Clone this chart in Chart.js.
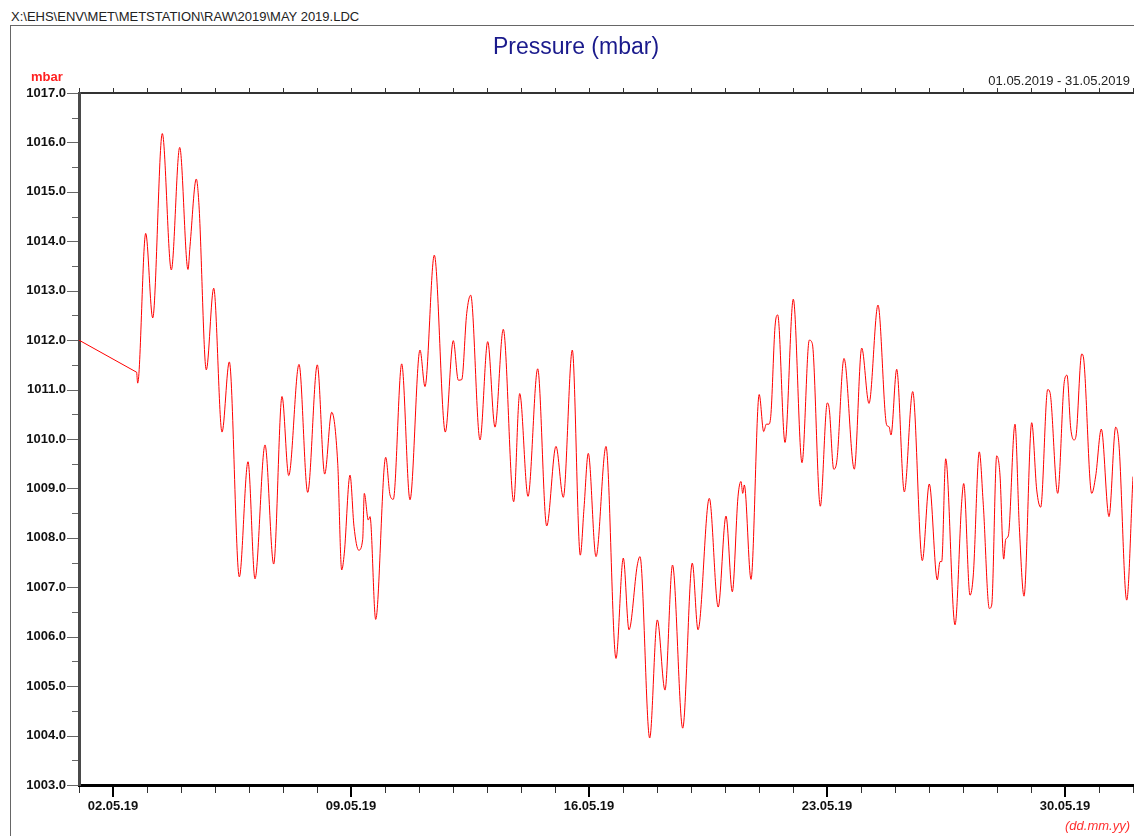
<!DOCTYPE html>
<html>
<head>
<meta charset="utf-8">
<script src="https://cdn.jsdelivr.net/npm/chart.js@4"></script>
<style>
html,body{margin:0;padding:0;background:#fff;}
#wrap{position:relative;width:1134px;height:836px;overflow:hidden;font-family:"Liberation Sans",Arial,sans-serif;}
#frame{position:absolute;left:10px;top:25px;width:1200px;height:900px;border-left:1px solid #666;border-top:1px solid #666;}
canvas{position:absolute;left:0;top:0;}
.t{position:absolute;line-height:1;white-space:nowrap;}
</style>
</head>
<body>
<div id="wrap">
  <div class="t" style="left:11px;top:10px;font-size:13px;color:#222;">X:\EHS\ENV\MET\METSTATION\RAW\2019\MAY 2019.LDC</div>
  <div id="frame"></div>
  <canvas id="c" width="1134" height="836"></canvas>
  <div class="t" style="left:576px;top:35px;font-size:23px;color:#1a1a8c;transform:translateX(-50%);">Pressure (mbar)</div>
  <div class="t" style="left:31px;top:70px;font-size:13px;font-weight:bold;color:#ff2020;">mbar</div>
  <div class="t" style="right:4px;top:74px;font-size:13px;color:#222;">01.05.2019 - 31.05.2019</div>
  <div class="t" style="right:4px;top:819px;font-size:13px;font-style:italic;color:#ff3030;">(dd.mm.yy)</div>
</div>
<script>
// ---- Data (days since 01.05.2019 00:00, pressure in mbar) ----
const days = [
  0.000, 1.697, 1.726, 1.962, 2.168, 2.450, 2.715, 2.962, 3.206, 3.265,
  3.450, 3.529, 3.744, 3.962, 4.206, 4.421, 4.715, 4.971, 5.176, 5.471,
  5.726, 5.971, 6.168, 6.471, 6.726, 7.009, 7.226, 7.432, 7.609, 7.726,
  7.803, 7.971, 8.088, 8.226, 8.344, 8.391, 8.509, 8.559, 8.726, 9.021,
  9.147, 9.244, 9.491, 9.735, 10.029, 10.176, 10.450, 10.774, 11.009, 11.156,
  11.256, 11.403, 11.521, 11.794, 12.021, 12.235, 12.479, 12.785, 12.962, 13.206,
  13.491, 13.756, 14.029, 14.244, 14.509, 14.744, 14.853, 14.979, 15.206, 15.500,
  15.794, 16.009, 16.176, 16.421, 16.500, 16.785, 17.009, 17.235, 17.456, 17.756,
  18.038, 18.206, 18.538, 18.800, 19.029, 19.215, 19.382, 19.471, 19.521, 19.568,
  19.765, 20.006, 20.138, 20.215, 20.294, 20.353, 20.471, 20.550, 20.765, 21.009,
  21.265, 21.479, 21.568, 21.803, 22.009, 22.068, 22.197, 22.294, 22.500, 22.803,
  23.021, 23.235, 23.500, 23.756, 23.824, 23.882, 24.050, 24.274, 24.521, 24.803,
  25.009, 25.244, 25.324, 25.374, 25.491, 25.765, 25.962, 26.021, 26.206, 26.303,
  26.479, 26.597, 26.774, 26.844, 26.991, 27.088, 27.197, 27.256, 27.332, 27.529,
  27.656, 27.794, 28.021, 28.168, 28.285, 28.491, 28.559, 28.785, 28.979, 29.059,
  29.168, 29.265, 29.324, 29.491, 29.538, 29.785, 29.903, 30.068, 30.294, 30.491,
  30.588, 30.815, 31.000
];
const pressure = [
  1012.00, 1011.35, 1011.13, 1014.16, 1012.45, 1016.18, 1013.42, 1015.90, 1013.43, 1013.90,
  1015.26, 1014.73, 1011.40, 1013.05, 1010.14, 1011.56, 1007.21, 1009.54, 1007.17, 1009.88,
  1007.47, 1010.86, 1009.26, 1011.51, 1008.92, 1011.50, 1009.29, 1010.54, 1009.51, 1007.35,
  1007.69, 1009.27, 1008.23, 1007.75, 1007.97, 1008.90, 1008.36, 1008.43, 1006.35, 1009.63,
  1008.87, 1008.78, 1011.52, 1008.77, 1011.80, 1011.06, 1013.72, 1010.14, 1011.99, 1011.19,
  1011.20, 1012.54, 1012.91, 1009.98, 1011.97, 1010.24, 1012.22, 1008.73, 1010.92, 1008.84,
  1011.42, 1008.24, 1009.85, 1008.82, 1011.80, 1007.65, 1008.60, 1009.71, 1007.62, 1009.85,
  1005.56, 1007.59, 1006.14, 1007.45, 1007.62, 1003.95, 1006.34, 1004.92, 1007.45, 1004.15,
  1007.49, 1006.14, 1008.80, 1006.60, 1008.44, 1006.91, 1008.83, 1009.14, 1008.90, 1009.07,
  1007.16, 1010.90, 1010.15, 1010.30, 1010.30, 1010.52, 1012.27, 1012.51, 1009.93, 1012.83,
  1009.52, 1012.00, 1011.93, 1008.64, 1010.73, 1010.60, 1009.39, 1009.58, 1011.63, 1009.39,
  1011.84, 1010.72, 1012.71, 1010.28, 1010.25, 1010.08, 1011.41, 1008.93, 1010.96, 1007.54,
  1009.09, 1007.15, 1007.52, 1007.52, 1009.60, 1006.24, 1008.73, 1009.10, 1006.84, 1007.25,
  1009.74, 1008.67, 1006.57, 1006.64, 1009.66, 1009.27, 1007.57, 1007.97, 1008.04, 1010.30,
  1008.23, 1006.82, 1010.33, 1008.97, 1008.62, 1011.00, 1010.94, 1008.90, 1011.16, 1011.29,
  1010.22, 1009.98, 1010.06, 1011.72, 1011.67, 1008.90, 1009.25, 1010.20, 1008.43, 1010.24,
  1009.88, 1006.74, 1009.24
];
// gap in the record: first sample joined by a straight line to the next one
const gapEndIndex = 1;

// x tick labels (day offset -> label)
const tickDays = [1, 8, 15, 22, 29];
const tickLabels = ['02.05.19', '09.05.19', '16.05.19', '23.05.19', '30.05.19'];
const xMin = 0, xMax = 31;
const yMin = 1003, yMax = 1017;

const points = days.map((d, i) => ({x: d, y: pressure[i]}));
const gapPoints = points.slice(0, gapEndIndex + 1);
const mainPoints = points.slice(gapEndIndex);

const FONT = '"Liberation Sans", Arial, sans-serif';

const axisTicks = {
  id: 'axisTicks',
  afterDraw(chart) {
    const {ctx, chartArea: area} = chart;
    const x = chart.scales.x, y = chart.scales.y;
    ctx.save();
    x.ticks.forEach(t => {
      const major = tickDays.includes(t.value);
      const px = Math.round(x.getPixelForValue(t.value));
      ctx.strokeStyle = major ? '#000' : '#333';
      ctx.lineWidth = major ? 2 : 1;
      ctx.beginPath();
      const xx = major ? px : px + 0.5;
      ctx.moveTo(xx, area.bottom + 2);
      ctx.lineTo(xx, area.bottom + (major ? 12 : 8));
      ctx.stroke();
    });
    y.ticks.forEach(t => {
      const major = Math.abs(t.value - Math.round(t.value)) < 1e-6;
      const py = Math.round(y.getPixelForValue(t.value)) + 0.5;
      ctx.strokeStyle = '#666';
      ctx.lineWidth = 1;
      ctx.beginPath();
      ctx.moveTo(area.left - (major ? 12 : 7), py);
      ctx.lineTo(area.left - 1, py);
      ctx.stroke();
    });
    ctx.restore();
  }
};

new Chart(document.getElementById('c'), {
  type: 'line',
  data: {
    datasets: [
      {data: gapPoints, borderColor: '#ff0000', borderWidth: 1, pointRadius: 0, tension: 0},
      {data: mainPoints, borderColor: '#ff0000', borderWidth: 1, pointRadius: 0, cubicInterpolationMode: 'monotone'}
    ]
  },
  options: {
    responsive: false,
    devicePixelRatio: 1,
    animation: false,
    events: [],
    layout: {padding: {top: 93, right: 1, left: 0, bottom: 0}, autoPadding: false},
    plugins: {legend: {display: false}, title: {display: false}, tooltip: {enabled: false}},
    scales: {
      x: {
        type: 'linear', position: 'bottom', min: xMin, max: xMax,
        afterFit: s => { s.height = 51; },
        grid: {display: true, drawOnChartArea: false, drawTicks: true, tickLength: 14, tickColor: 'rgba(0,0,0,0)'},
        border: {display: true, color: '#000', width: 3},
        ticks: {
          stepSize: 1, autoSkip: false, maxRotation: 0, padding: 0,
          color: '#111', font: {family: FONT, size: 13, weight: 'bold'},
          callback: v => { const i = tickDays.indexOf(v); return i >= 0 ? tickLabels[i] : ''; }
        }
      },
      x2: {
        type: 'linear', position: 'top', min: xMin, max: xMax,
        afterFit: s => { s.height = 0; },
        grid: {display: true, drawOnChartArea: false, drawTicks: true, tickLength: 5, color: '#333'},
        border: {display: true, color: '#333', width: 2},
        ticks: {stepSize: 1, autoSkip: false, display: false}
      },
      y: {
        type: 'linear', position: 'left', min: yMin, max: yMax,
        afterFit: s => { s.width = 79; },
        grid: {display: true, drawOnChartArea: false, drawTicks: false},
        border: {display: true, color: '#4a4a4a', width: 3},
        ticks: {
          stepSize: 0.5, autoSkip: false, padding: 13,
          color: '#111', font: {family: FONT, size: 13, weight: 'bold'},
          callback: v => Math.abs(v - Math.round(v)) < 1e-6 ? v.toFixed(1) : ''
        }
      }
    }
  },
  plugins: [axisTicks]
});
</script>
</body>
</html>
